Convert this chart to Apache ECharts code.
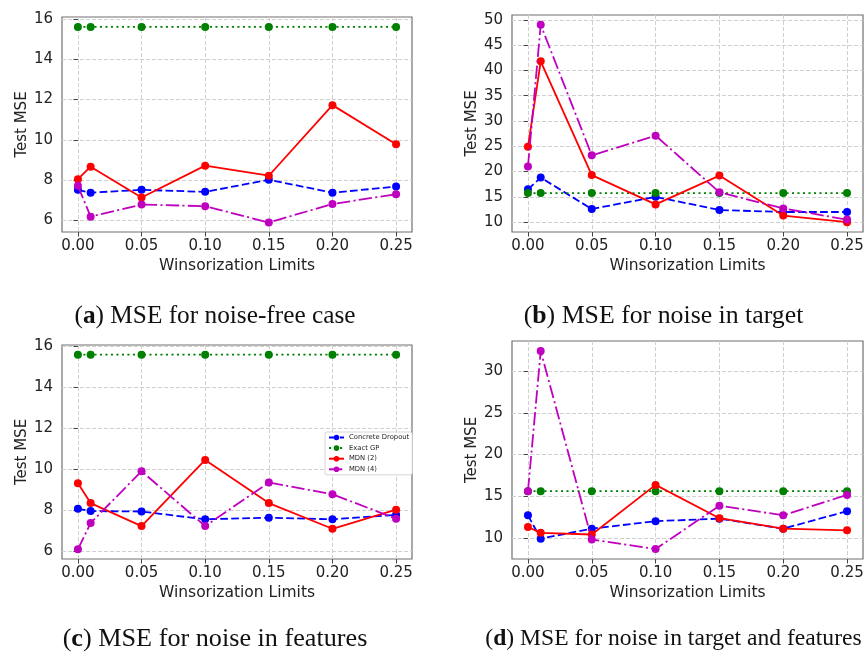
<!DOCTYPE html>
<html><head><meta charset="utf-8">
<script src="https://cdn.jsdelivr.net/npm/echarts@6/dist/echarts.min.js"></script>
<style>html,body{margin:0;padding:0;background:#fff}#c{width:867px;height:655px}</style>
</head><body><div id="c"></div>
<script>
// ---------- data ----------
const winsor = [0, 0.01, 0.05, 0.10, 0.15, 0.20, 0.25];
const xTicks = [0, 0.05, 0.10, 0.15, 0.20, 0.25];
const seriesNames = ['Concrete Dropout', 'Exact GP', 'MDN (2)', 'MDN (4)'];

// (a) noise-free
const a_concrete = [7.52, 7.38, 7.52, 7.42, 8.02, 7.38, 7.68];
const a_exactGP  = [15.6, 15.6, 15.6, 15.6, 15.6, 15.6, 15.6];
const a_mdn2     = [8.05, 8.67, 7.14, 8.72, 8.22, 11.72, 9.78];
const a_mdn4     = [7.72, 6.19, 6.79, 6.71, 5.90, 6.82, 7.30];
const a_yTicks   = [6, 8, 10, 12, 14, 16];

// (b) noise in target
const b_concrete = [16.5, 18.8, 12.6, 15.0, 12.4, 12.0, 12.0];
const b_exactGP  = [15.75, 15.75, 15.75, 15.75, 15.75, 15.75, 15.75];
const b_mdn2     = [24.9, 41.8, 19.3, 13.5, 19.2, 11.3, 10.0];
const b_mdn4     = [21.0, 49.0, 23.2, 27.1, 15.9, 12.7, 10.5];
const b_yTicks   = [10, 15, 20, 25, 30, 35, 40, 45, 50];

// (c) noise in features
const c_concrete = [8.08, 7.97, 7.95, 7.57, 7.65, 7.57, 7.79];
const c_exactGP  = [15.58, 15.58, 15.58, 15.58, 15.58, 15.58, 15.58];
const c_mdn2     = [9.33, 8.36, 7.24, 10.46, 8.36, 7.11, 8.04];
const c_mdn4     = [6.11, 7.39, 9.91, 7.24, 9.36, 8.79, 7.60];
const c_yTicks   = [6, 8, 10, 12, 14, 16];

// (d) noise in target and features
const d_concrete = [12.7, 9.9, 11.1, 12.0, 12.3, 11.1, 13.2];
const d_exactGP  = [15.6, 15.6, 15.6, 15.6, 15.6, 15.6, 15.6];
const d_mdn2     = [11.3, 10.6, 10.4, 16.35, 12.35, 11.1, 10.9];
const d_mdn4     = [15.6, 32.4, 9.8, 8.65, 13.85, 12.7, 15.15];
const d_yTicks   = [10, 15, 20, 25, 30];

const captionLetters = ['a', 'b', 'c', 'd'];
const captionTexts = [' MSE for noise-free case', ' MSE for noise in target',
                      ' MSE for noise in features', ' MSE for noise in target and features'];
const xAxisName = 'Winsorization Limits';
const yAxisName = 'Test MSE';

// ---------- layout / style ----------
const panels = [
  {vals: [a_concrete, a_exactGP, a_mdn2, a_mdn4], ticks: a_yTicks, min: 5.43, max: 16.09,
   grid: {left: 62, top: 17, width: 350, height: 215}, cap: [215, 316], capSize: 25.3},
  {vals: [b_concrete, b_exactGP, b_mdn2, b_mdn4], ticks: b_yTicks, min: 8.05, max: 50.95,
   grid: {left: 512, top: 15, width: 351, height: 217}, cap: [663.5, 316], capSize: 25.8},
  {vals: [c_concrete, c_exactGP, c_mdn2, c_mdn4], ticks: c_yTicks, min: 5.64, max: 16.05,
   grid: {left: 62, top: 345, width: 350, height: 214}, cap: [215, 639], capSize: 26.2},
  {vals: [d_concrete, d_exactGP, d_mdn2, d_mdn4], ticks: d_yTicks, min: 7.46, max: 33.61,
   grid: {left: 512, top: 341, width: 351, height: 218}, cap: [673.5, 639], capSize: 23.6}
];
const colors = ['#0000ff', '#008000', '#ff0000', '#bf00bf'];
const dashes = [[7.7, 3.3], [2.1, 3.4], 'solid', [13.3, 3.3, 2.1, 3.3]];
const FONT = 'DejaVu Sans';
const SERIF = 'Liberation Serif';

const grids = [], xAxes = [], yAxes = [], series = [], graphics = [];
panels.forEach((p, i) => {
  grids.push(Object.assign({show: true, borderColor: '#707070', borderWidth: 1.2,
                            backgroundColor: 'transparent', containLabel: false}, p.grid));
  xAxes.push({
    type: 'value', gridIndex: i, min: -0.0125, max: 0.2625,
    name: xAxisName, nameLocation: 'middle', nameGap: 26,
    nameTextStyle: {fontFamily: FONT, fontSize: 15.5, color: '#222'},
    axisLine: {show: false},
    axisTick: {show: true, inside: false, length: 4.5, customValues: xTicks,
               lineStyle: {color: '#444', width: 1}},
    axisLabel: {customValues: xTicks, margin: 7, fontFamily: FONT, fontSize: 15, color: '#222',
                formatter: v => v.toFixed(2)},
    splitLine: {show: true, lineStyle: {color: '#d0d0d0', width: 1, type: [4, 2]}}
  });
  yAxes.push({
    type: 'value', gridIndex: i, min: p.min, max: p.max,
    name: yAxisName, nameLocation: 'middle', nameGap: 31, nameRotate: 90,
    nameTextStyle: {fontFamily: FONT, fontSize: 15, color: '#222'},
    axisLine: {show: false},
    axisTick: {show: true, inside: false, length: 4.5, customValues: p.ticks,
               lineStyle: {color: '#444', width: 1}},
    axisLabel: {customValues: p.ticks, margin: 9, fontFamily: FONT, fontSize: 15, color: '#222',
                formatter: v => String(Math.round(v))},
    splitLine: {show: true, lineStyle: {color: '#d0d0d0', width: 1, type: [4, 2]}}
  });
  p.vals.forEach((arr, k) => {
    series.push({
      type: 'line', name: seriesNames[k], xAxisIndex: i, yAxisIndex: i,
      data: winsor.map((x, j) => [x, arr[j]]),
      symbol: 'circle', symbolSize: 8, showSymbol: true,
      itemStyle: {color: colors[k]},
      lineStyle: {color: colors[k], width: 1.8, type: dashes[k]},
      z: 2 + k, animation: false
    });
  });
  graphics.push({
    type: 'text', x: p.cap[0], y: p.cap[1],
    style: {
      text: '{p|(}{b|' + captionLetters[i] + '}{p|)' + captionTexts[i] + '}',
      align: 'center', verticalAlign: 'middle',
      rich: {
        p: {fontFamily: SERIF, fontSize: p.capSize, fill: '#111'},
        b: {fontFamily: SERIF, fontSize: p.capSize, fontWeight: 'bold', fill: '#111'}
      }
    }
  });
});

const chart = echarts.init(document.getElementById('c'), null, {renderer: 'canvas'});
chart.setOption({
  animation: false,
  backgroundColor: '#ffffff',
  grid: grids, xAxis: xAxes, yAxis: yAxes, series: series,
  legend: {
    data: seriesNames, orient: 'vertical', left: 325, top: 432,
    itemWidth: 15, itemHeight: 7, itemGap: 3.6,
    padding: [2, 3, 2, 3],
    backgroundColor: '#fff', borderColor: '#cccccc', borderWidth: 0.8, borderRadius: 2,
    textStyle: {fontFamily: FONT, fontSize: 6.8, color: '#222'},
    selectedMode: false
  },
  graphic: graphics
});
</script>
</body></html>
